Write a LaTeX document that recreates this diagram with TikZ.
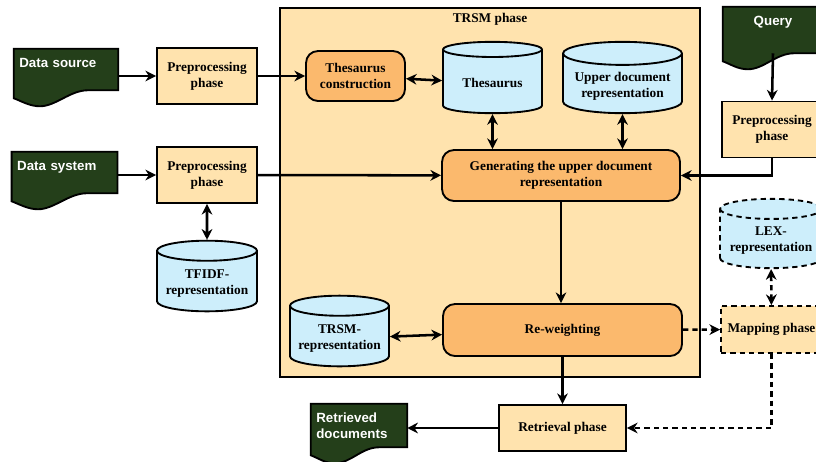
\documentclass[tikz,border=0pt]{standalone}
\usepackage{fontspec}
\setmainfont{Liberation Serif}
\newfontfamily\docfont{Liberation Sans}
\usetikzlibrary{arrows.meta,positioning,calc,shapes.geometric,backgrounds}
\definecolor{peach}{HTML}{FFE3AE}
\definecolor{orangebox}{HTML}{FBB96D}
\definecolor{dbblue}{HTML}{CDEEFB}
\definecolor{docgreen}{HTML}{243F1A}
\tikzset{
  phase/.style={draw, fill=peach, line width=1.4pt, align=center, font=\bfseries, minimum width=75pt, minimum height=42pt},
  stage/.style={draw, fill=orangebox, rounded corners=9pt, line width=1.4pt, align=center, font=\bfseries},
  store/.style={cylinder, shape border rotate=90, aspect=0.22, anchor=shape center, draw, fill=dbblue, line width=1.4pt, align=center, font=\bfseries},
  doc/.style={align=left, font=\docfont\bfseries, text=white, inner sep=4pt},
  docshape/.style={draw, fill=docgreen, line width=1.4pt},
  edge/.style={-{Stealth[length=8pt,width=8pt]}, line width=1.9pt},
  twoway/.style={{Stealth[length=8pt,width=8pt]}-{Stealth[length=8pt,width=8pt]}, line width=1.9pt},
  faint/.style={dash pattern=on 4pt off 3pt}
}
\begin{document}
\begin{tikzpicture}[x=0.75pt, y=-0.75pt]
\useasboundingbox (0,0) rectangle (816,461);
% TRSM frame
\node[draw, fill=peach, line width=1.4pt, minimum width=315pt, minimum height=276.75pt] (trsm) at (490,192.5) {};
\node[font=\bfseries] (trsmtitle) at (490,19) {TRSM phase};

% documents
\node[doc, text width=70pt, minimum height=30.75pt, text depth=10pt] (dsrc) at (66,69.5) {Data source};
\node[doc, text width=71pt, minimum height=30.75pt, text depth=10pt] (dsys) at (64.5,172.5) {Data system};
\node[doc, align=center, text width=67pt, minimum height=34.5pt, text depth=13.5pt] (query) at (773,30) {Query};
\node[doc, text width=64pt, minimum height=32.25pt] (rdoc) at (359,425.5) {Retrieved\\documents};
\begin{scope}[on background layer]
\foreach \d in {dsrc,dsys,query,rdoc}
  \draw[docshape] (\d.north west) -- (\d.north east) -- (\d.south east)
    -- ($(\d.south west)!0.71!(\d.south east)$)
    .. controls +(-18,0) and +(16,0) .. ($(\d.south west)!0.25!(\d.south east)+(0,16)$)
    .. controls +(-10,0) and +(8,3) .. ($(\d.south west)+(0,8)$) -- cycle;
\end{scope}

% preprocessing
\node[phase] (pre1) at (207,76) {Preprocessing\\phase};
\node[phase] (pre2) at (207,175) {Preprocessing\\phase};
\node[phase] (pre3) at (772,129.5) {Preprocessing\\phase};
\node[store, minimum width=75pt, minimum height=53pt] (tfidf) at (207,276) {TFIDF-\\representation};

% inside TRSM
\node[stage, minimum width=74.25pt, minimum height=37.5pt] (tcons) at (355.5,76) {Thesaurus\\construction};
\node[store, minimum width=74.25pt, minimum height=53.5pt] (thes) at (492.5,77.5) {Thesaurus};
\node[store, minimum width=89.25pt, minimum height=53.5pt] (upper) at (622.5,77.5) {Upper document\\representation};
\node[stage, minimum width=178.5pt, minimum height=38.25pt] (gen) at (561,175.5) {Generating the upper document\\representation};
\node[stage, minimum width=179.25pt, minimum height=39pt] (rew) at (562.5,330) {Re-weighting};
\node[store, minimum width=74.25pt, minimum height=53pt] (trsmrep) at (339.5,331) {TRSM-\\representation};

% right side
\node[store, faint, minimum width=76.5pt, minimum height=52pt] (lex) at (771,233.5) {LEX-\\representation};
\node[phase, faint, minimum width=75.75pt, minimum height=35.25pt] (map) at (771.5,329.5) {Mapping phase};
\node[phase, minimum width=95.25pt, minimum height=34.5pt] (retr) at (562.5,428) {Retrieval phase};

\draw[edge] (dsrc.east |- pre1.west) -- (pre1.west);
\draw[edge] (dsys.east |- pre2.west) -- (pre2.west);
\draw[edge] (pre1) -- (tcons);
\draw[twoway] (tcons) -- (thes);
\draw[twoway] (thes.south) -- (thes.south |- gen.north);
\draw[twoway] (upper.south) -- (upper.south |- gen.north);
\draw[edge] (pre2) -- (gen);
\draw[twoway] (pre2) -- (tfidf);
\draw[edge] (query.south) -- (pre3.north);
\draw[edge] (pre3.south) |- (gen.east);
\draw[edge] (gen.south) -- (gen.south |- rew.north);
\draw[twoway] (trsmrep) -- (rew);
\draw[edge, faint] (rew) -- (map);
\draw[twoway, faint] (lex) -- (map);
\draw[edge] (rew.south) -- (rew.south |- retr.north);
\draw[edge, faint] (map.south) |- (retr.east);
\draw[edge] (retr.west) -- (retr.west -| rdoc.east);
\end{tikzpicture}
\end{document}
